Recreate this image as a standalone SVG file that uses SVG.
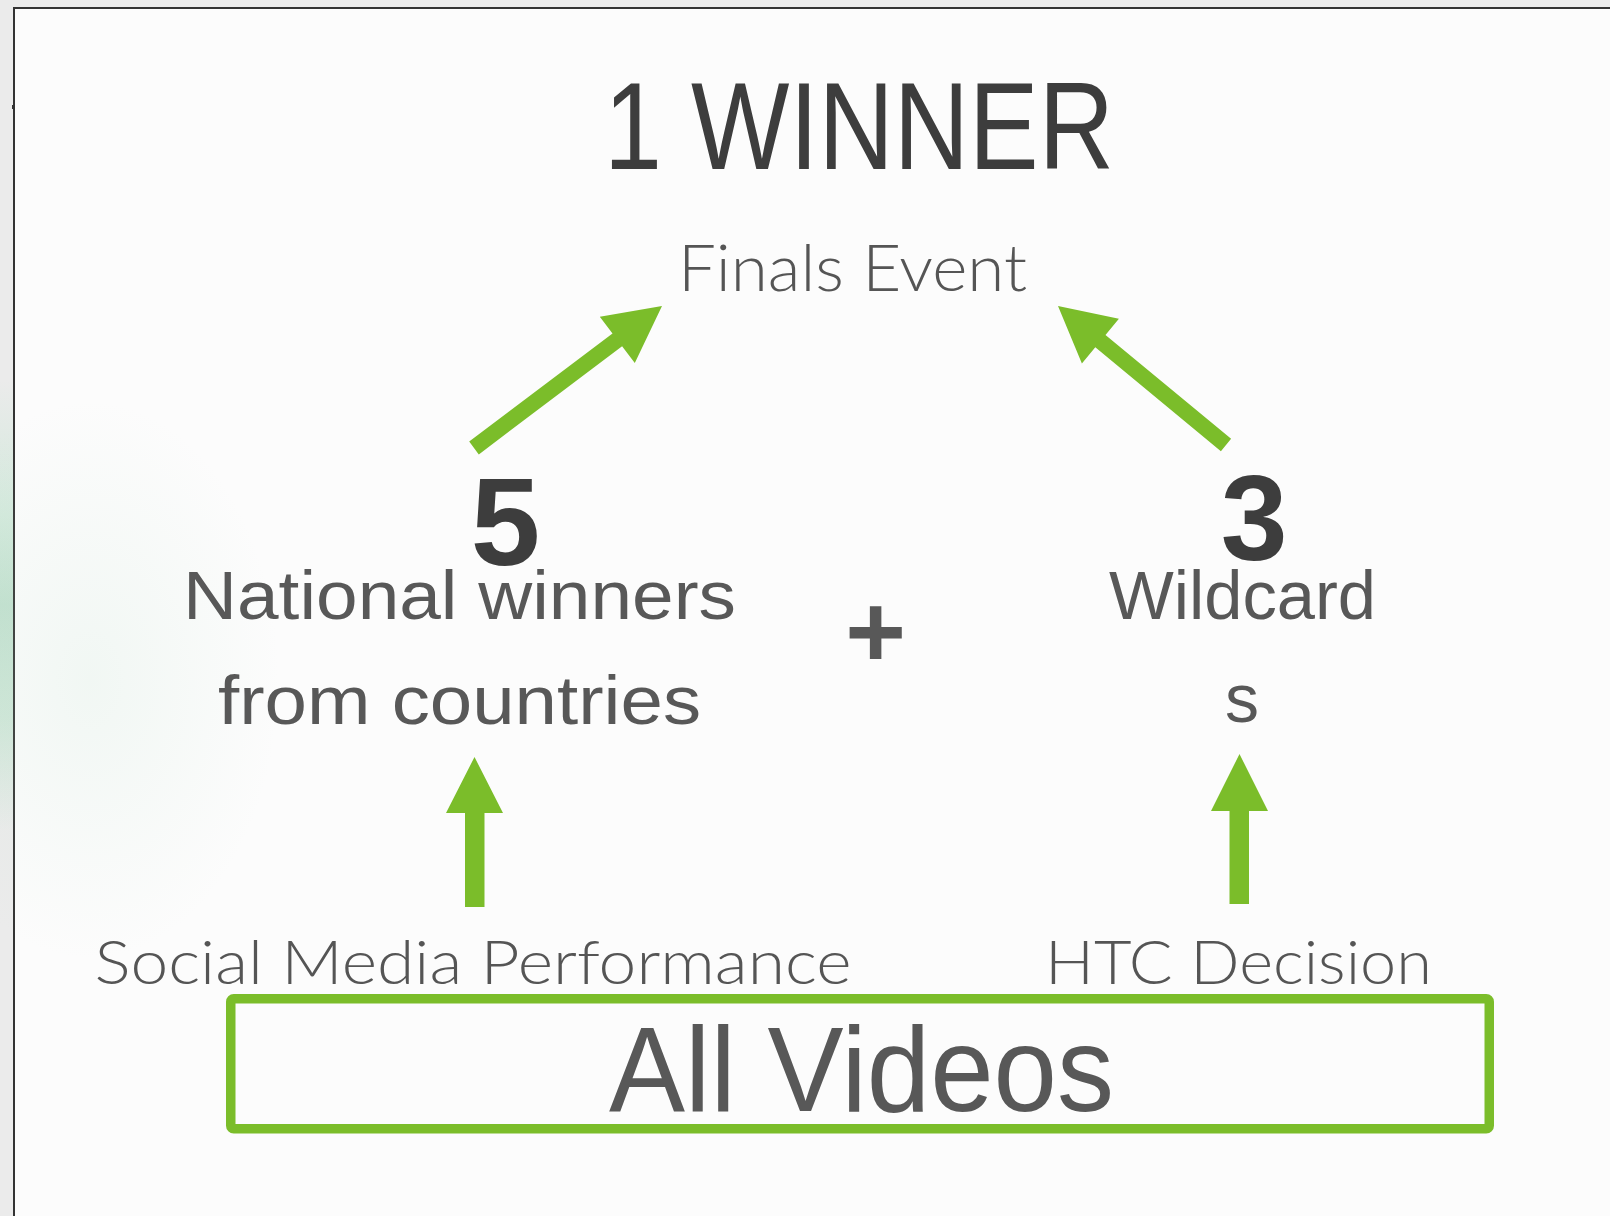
<svg xmlns="http://www.w3.org/2000/svg" width="1610" height="1216" viewBox="0 0 1610 1216">
  <defs>
    <style>
      .hand { font-family: "Liberation Sans", "DejaVu Sans", sans-serif; fill: #585858; }
      .handDark { font-family: "Liberation Sans", "DejaVu Sans", sans-serif; fill: #3d3d3d; }
      .thin { font-family: Lato, "Open Sans", "Liberation Sans", sans-serif; font-weight: 300; fill: #555555; }
      .arrow { fill: #7bbd2a; }
    </style>
    <linearGradient id="strip" x1="0" y1="0" x2="0" y2="1">
      <stop offset="0" stop-color="#ebebeb"/>
      <stop offset="0.3" stop-color="#d3e9dc"/>
      <stop offset="0.5" stop-color="#c2e0cf"/>
      <stop offset="0.75" stop-color="#cfe6d8"/>
      <stop offset="1" stop-color="#ebebeb"/>
    </linearGradient>
    <radialGradient id="glow" cx="0.5" cy="0.5" r="0.5">
      <stop offset="0" stop-color="#bfe0cc" stop-opacity="0.18"/>
      <stop offset="1" stop-color="#bfe0cc" stop-opacity="0"/>
    </radialGradient>
  </defs>

  <!-- background -->
  <rect x="0" y="0" width="1610" height="1216" fill="#ebebeb"/>
  <rect x="0" y="380" width="13" height="450" fill="url(#strip)"/>
  <rect x="14" y="8" width="1610" height="1230" fill="#fcfcfc" stroke="#333333" stroke-width="2"/>
  <ellipse cx="90" cy="680" rx="190" ry="280" fill="url(#glow)"/>
  <rect x="12" y="105" width="3" height="4" fill="#333333"/>

  <g id="connectors">
    <polygon class="arrow" points="469.2,441.6 612.5,333.4 599.8,316.7 662,306 634.8,362.9 622.1,346.2 478.8,454.4"/>
    <polygon class="arrow" points="1231.1,438.8 1105.5,334.9 1118.9,318.7 1058,306 1081.9,363.5 1095.3,347.3 1220.9,451.2"/>
    <polygon class="arrow" points="465,907 465,813 446,813 474.5,757 503,813 484.5,813 484.5,907"/>
    <polygon class="arrow" points="1229.5,904 1229.5,811 1211,811 1239.5,754 1268,811 1249,811 1249,904"/>
  </g>

  <g id="winner">
    <text class="handDark" x="604" y="169" font-size="124" textLength="510" lengthAdjust="spacingAndGlyphs">1 WINNER</text>
  </g>

  <g id="finals">
    <text class="thin" x="678" y="291" font-size="65" textLength="349" lengthAdjust="spacingAndGlyphs">Finals Event</text>
  </g>

  <g id="national">
    <text class="handDark" x="505.5" y="565" font-size="125" font-weight="bold" text-anchor="middle">5</text>
    <text class="hand" x="183" y="619" font-size="68" textLength="553" lengthAdjust="spacingAndGlyphs">National winners</text>
    <text class="hand" x="218" y="724" font-size="68" textLength="483" lengthAdjust="spacingAndGlyphs">from countries</text>
  </g>

  <g id="plus">
    <text x="875.5" y="667" font-family="Liberation Sans, sans-serif" font-weight="bold" font-size="104" fill="#585858" text-anchor="middle">+</text>
  </g>

  <g id="wildcards">
    <text class="handDark" x="1254" y="560" font-size="120" font-weight="bold" text-anchor="middle">3</text>
    <text class="hand" x="1109" y="619" font-size="68" textLength="267" lengthAdjust="spacingAndGlyphs">Wildcard</text>
    <text class="hand" x="1242" y="722" font-size="68" text-anchor="middle">s</text>
  </g>

  <g id="social">
    <text class="thin" x="94.5" y="984" font-size="61" textLength="757" lengthAdjust="spacingAndGlyphs">Social Media Performance</text>
  </g>

  <g id="htc">
    <text class="thin" x="1045" y="984" font-size="61" textLength="387" lengthAdjust="spacingAndGlyphs">HTC Decision</text>
  </g>

  <g id="allvideos">
    <rect x="230.75" y="998.75" width="1258.5" height="130" rx="3" fill="none" stroke="#7bbd2a" stroke-width="9.5"/>
    <text class="hand" x="609" y="1111" font-size="120" textLength="505" lengthAdjust="spacingAndGlyphs">All Videos</text>
  </g>
</svg>
